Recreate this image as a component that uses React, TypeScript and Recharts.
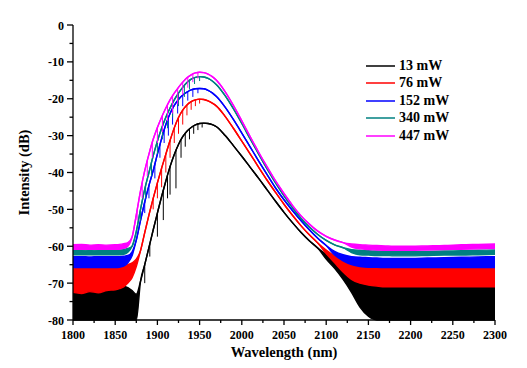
import { ComposedChart, Area, Scatter, ErrorBar, XAxis, YAxis, Legend } from "recharts";

// wavelength grid (nm)
const WAVELENGTH = [
  1800, 1810, 1820, 1830, 1840, 1850, 1855, 1860, 1865, 1870, 1875, 1880, 1885, 1890, 1895,
  1900, 1905, 1910, 1915, 1920, 1925, 1930, 1935, 1940, 1945, 1950, 1955, 1960, 1965, 1970,
  1980, 1990, 2000, 2010, 2020, 2030, 2040, 2050, 2060, 2070, 2080, 2090, 2100, 2110, 2120,
  2130, 2140, 2150, 2160, 2170, 2180, 2190, 2200, 2220, 2240, 2260, 2280, 2300,
];

const SERIES_NAMES = ["13 mW", "76 mW", "152 mW", "340 mW", "447 mW"];
const SERIES_COLORS = ["#000000", "#ff0000", "#0000ff", "#008080", "#ff00ff"];

// upper trace (spectrum / top of noise floor), dB
const P13_TOP = [
  -70.5, -70.0, -70.8, -70.3, -70.6, -70.4, -70.5, -70.8, -71.2, -72.0, -73.0, -69.5, -65.0, -60.3, -55.6,
  -51.0, -46.5, -42.3, -38.4, -35.1, -32.4, -30.3, -28.8, -27.8, -27.1, -26.7, -26.6, -26.7, -27.0, -27.6,
  -29.9, -32.7, -35.6, -38.6, -41.6, -44.7, -47.8, -50.8, -53.6, -56.2, -58.5, -60.5, -62.2, -63.7, -65.0,
  -66.2, -67.2, -68.0, -68.5, -68.8, -69.0, -69.2, -69.3, -69.4, -69.4, -69.3, -69.2, -69.0,
];
const P76_TOP = [
  -66.0, -65.6, -65.8, -65.5, -65.7, -65.5, -65.4, -65.3, -65.0, -64.5, -63.5, -61.2, -56.3, -51.5, -47.0,
  -42.8, -38.8, -35.0, -31.3, -27.9, -25.1, -23.1, -21.7, -20.8, -20.3, -20.1, -20.2, -20.6, -21.2, -22.0,
  -24.7, -28.0, -31.5, -35.0, -38.6, -42.1, -45.4, -48.6, -51.6, -54.4, -56.9, -59.1, -61.0, -62.6, -63.8,
  -64.6, -65.0, -65.2, -65.3, -65.3, -65.4, -65.4, -65.4, -65.4, -65.3, -65.2, -65.1, -65.0,
];
const P152_TOP = [
  -62.8, -62.8, -62.9, -62.8, -62.8, -62.8, -62.8, -62.7, -62.5, -61.5, -58.3, -53.0, -48.0, -43.5, -39.5,
  -35.0, -30.8, -27.0, -24.0, -21.8, -20.2, -19.0, -18.2, -17.6, -17.3, -17.2, -17.3, -17.7, -18.4, -19.4,
  -22.2, -25.6, -29.3, -33.1, -36.9, -40.6, -44.2, -47.4, -50.3, -53.0, -55.5, -57.8, -59.8, -61.4, -62.3,
  -62.8, -63.0, -63.1, -63.2, -63.3, -63.3, -63.3, -63.3, -63.2, -63.1, -63.0, -62.9, -62.8,
];
const P340_TOP = [
  -61.0, -61.0, -61.1, -61.0, -61.0, -61.0, -61.0, -60.9, -60.6, -60.0, -56.0, -50.0, -44.5, -40.0, -35.5,
  -31.5, -28.0, -25.0, -22.5, -20.3, -18.5, -16.9, -15.6, -14.7, -14.2, -14.0, -14.1, -14.5, -15.2, -16.2,
  -19.1, -22.7, -26.7, -30.9, -35.0, -39.0, -42.8, -46.3, -49.5, -52.4, -54.8, -56.8, -58.4, -59.6, -60.4,
  -60.9, -61.1, -61.2, -61.3, -61.4, -61.5, -61.5, -61.5, -61.4, -61.3, -61.2, -61.1, -61.0,
];
const P447_TOP = [
  -59.6, -59.5, -59.7, -59.6, -59.7, -59.6, -59.5, -59.3, -59.0, -57.5, -51.5, -45.0, -39.5, -35.0, -31.0,
  -27.8, -25.0, -22.5, -20.3, -18.5, -16.9, -15.5, -14.3, -13.5, -13.0, -12.8, -12.9, -13.3, -14.0, -15.0,
  -18.0, -21.8, -26.0, -30.3, -34.5, -38.5, -42.3, -45.7, -48.9, -51.7, -54.0, -55.9, -57.3, -58.3, -59.0,
  -59.4, -59.6, -59.7, -59.8, -59.9, -60.0, -60.0, -60.0, -59.9, -59.8, -59.6, -59.5, -59.4,
];

// lower edge of the noise band, null where the trace is clean
const P13_LOW = [
  -80, -80, -80, -80, -80, -80, -80, -80, -80, -80, -80, null, null, null, null,
  null, null, null, null, null, null, null, null, null, null, null, null, null, null, null,
  null, null, null, null, null, null, null, null, null, null, null, null, -63.5, -66.0, -69.0,
  -72.5, -76.5, -79.0, -80, -80, -80, -80, -80, -80, -80, -80, -80, -80,
];
const P76_LOW = [
  -72.5, -72.8, -72.3, -72.6, -72.0, -71.8, -71.5, -71.0, -70.0, -68.5, -65.5, null, null, null, null,
  null, null, null, null, null, null, null, null, null, null, null, null, null, null, null,
  null, null, null, null, null, null, null, null, null, null, null, null, -62.0, -64.5, -67.0,
  -69.0, -70.0, -70.5, -70.8, -71.0, -71.0, -71.0, -71.0, -71.0, -71.0, -71.0, -71.0, -71.0,
];
const P152_LOW = [
  -65.8, -65.8, -65.8, -65.8, -65.8, -65.8, -65.7, -65.4, -64.5, -62.6, null, null, null, null, null,
  null, null, null, null, null, null, null, null, null, null, null, null, null, null, null,
  null, null, null, null, null, null, null, null, null, null, null, null, null, -62.4, -64.0,
  -65.0, -65.5, -65.7, -65.7, -65.8, -65.8, -65.8, -65.8, -65.8, -65.8, -65.8, -65.8, -65.8,
];
const P340_LOW = [
  -62.3, -62.3, -62.3, -62.3, -62.3, -62.3, -62.3, -62.2, -61.6, null, null, null, null, null, null,
  null, null, null, null, null, null, null, null, null, null, null, null, null, null, null,
  null, null, null, null, null, null, null, null, null, null, null, null, null, null, null,
  -61.7, -62.3, -62.4, -62.5, -62.5, -62.6, -62.6, -62.6, -62.5, -62.4, -62.4, -62.3, -62.2,
];
const P447_LOW = [
  -60.8, -60.8, -60.8, -60.8, -60.8, -60.8, -60.8, -60.6, -60.0, null, null, null, null, null, null,
  null, null, null, null, null, null, null, null, null, null, null, null, null, null, null,
  null, null, null, null, null, null, null, null, null, null, null, null, null, null, null,
  -60.2, -60.7, -60.9, -61.0, -61.1, -61.1, -61.1, -61.1, -61.0, -60.9, -60.8, -60.7, -60.6,
];

// downward spikes on the rising edge: wavelength, trace level, spike tip (dB)
const P13_DIP_WL = [1885, 1891, 1900, 1907, 1912, 1915, 1922, 1928, 1933, 1938, 1943, 1948, 1953];
const P13_DIP_TOP = [-65.0, -59.4, -51.0, -44.8, -40.7, -38.4, -34.0, -31.1, -29.4, -28.2, -27.4, -26.9, -26.6];
const P13_DIP_TIP = [-70.0, -62.8, -57.4, -52.9, -47.0, -46.0, -44.3, -36.0, -33.0, -31.0, -29.5, -28.5, -27.8];

const P76_DIP_WL = [1895, 1900, 1905, 1910, 1915, 1920, 1925, 1930, 1935, 1940, 1945, 1950];
const P76_DIP_TOP = [-47.0, -42.8, -38.8, -35.0, -31.3, -27.9, -25.1, -23.1, -21.7, -20.8, -20.3, -20.1];
const P76_DIP_TIP = [-50.0, -47.0, -44.0, -40.0, -36.0, -32.0, -29.5, -27.0, -24.5, -23.0, -22.0, -21.3];

const P152_DIP_WL = [1885, 1890, 1897, 1903, 1908, 1913, 1918, 1924, 1930, 1936, 1942, 1948];
const P152_DIP_TOP = [-48.0, -43.5, -37.5, -32.4, -28.5, -25.1, -22.6, -20.5, -19.0, -18.1, -17.5, -17.2];
const P152_DIP_TIP = [-51.0, -47.0, -41.6, -36.0, -32.0, -30.0, -27.0, -24.0, -22.0, -20.5, -19.5, -18.5];

const P340_DIP_WL = [1880, 1886, 1893, 1900, 1906, 1912, 1918, 1925, 1932, 1938, 1944, 1950];
const P340_DIP_TOP = [-50.0, -43.6, -37.3, -31.5, -27.4, -24.0, -21.2, -18.5, -16.4, -15.0, -14.3, -14.0];
const P340_DIP_TIP = [-53.0, -47.0, -41.0, -35.0, -31.0, -28.0, -25.0, -22.0, -19.5, -17.5, -16.0, -15.2];

const P447_DIP_WL = [1876, 1882, 1888, 1894, 1900, 1906, 1912, 1918, 1924, 1930, 1936, 1942, 1948];
const P447_DIP_TOP = [-50.2, -42.8, -36.8, -31.8, -27.8, -24.5, -21.6, -19.2, -17.2, -15.5, -14.2, -13.3, -12.9];
const P447_DIP_TIP = [-53.0, -47.0, -41.0, -36.0, -32.0, -29.0, -26.0, -24.0, -21.5, -19.0, -17.0, -15.5, -14.5];

const X_TICKS = [1800, 1825, 1850, 1875, 1900, 1925, 1950, 1975, 2000, 2025, 2050, 2075, 2100, 2125, 2150, 2175, 2200, 2225, 2250, 2275, 2300];
const Y_TICKS = [-80, -75, -70, -65, -60, -55, -50, -45, -40, -35, -30, -25, -20, -15, -10, -5, 0];

const TOPS = [P13_TOP, P76_TOP, P152_TOP, P340_TOP, P447_TOP];
const LOWS = [P13_LOW, P76_LOW, P152_LOW, P340_LOW, P447_LOW];
const DIPS = [
  [P13_DIP_WL, P13_DIP_TOP, P13_DIP_TIP],
  [P76_DIP_WL, P76_DIP_TOP, P76_DIP_TIP],
  [P152_DIP_WL, P152_DIP_TOP, P152_DIP_TIP],
  [P340_DIP_WL, P340_DIP_TOP, P340_DIP_TIP],
  [P447_DIP_WL, P447_DIP_TOP, P447_DIP_TIP],
];
const KEYS = ["p13", "p76", "p152", "p340", "p447"];

const data = WAVELENGTH.map((wl, i) => {
  const row: any = { wl };
  KEYS.forEach((k, s) => {
    const top = TOPS[s][i];
    const low = LOWS[s][i];
    row[k] = [low == null ? top : low, top];
  });
  return row;
});

const dipData = DIPS.map(([wls, tops, tips]) =>
  wls.map((wl, i) => ({ wl, top: tops[i], err: [tops[i] - tips[i], 0] }))
);

const FONT = '"Liberation Serif", "Times New Roman", serif';
const AXIS = { stroke: "#000", strokeWidth: 1.3 };

const BottomTick = ({ x, y, payload }: any) => {
  const major = payload.value % 50 === 0;
  return (
    <g>
      <line x1={x} x2={x} y1={y} y2={y + (major ? 5 : 3)} {...AXIS} />
      {major && (
        <text x={x} y={y + 19} textAnchor="middle" fontFamily={FONT} fontWeight="bold" fontSize={12} fill="#000">
          {payload.value}
        </text>
      )}
    </g>
  );
};

const TopTick = ({ x, y, payload }: any) => {
  const major = payload.value % 50 === 0;
  return <line x1={x} x2={x} y1={y} y2={y + (major ? 5 : 3)} {...AXIS} />;
};

const LeftTick = ({ x, y, payload }: any) => {
  const major = payload.value % 10 === 0;
  return (
    <g>
      <line x1={x} x2={x - (major ? 6 : 3.5)} y1={y} y2={y} {...AXIS} />
      {major && (
        <text x={x - 9} y={y + 4.5} textAnchor="end" fontFamily={FONT} fontWeight="bold" fontSize={12} fill="#000">
          {payload.value}
        </text>
      )}
    </g>
  );
};

const RightTick = ({ x, y, payload }: any) => {
  const major = payload.value % 10 === 0;
  return <line x1={x} x2={x - (major ? 5 : 3)} y1={y} y2={y} {...AXIS} />;
};

// legend drawn from the series lists so the order stays 13 -> 447 mW
const LegendBox = () => (
  <div style={{ fontFamily: FONT, fontWeight: "bold", fontSize: 14, color: "#000" }}>
    {SERIES_NAMES.map((name, i) => (
      <div key={name} style={{ display: "flex", alignItems: "center", height: 17.5 }}>
        <svg width={33} height={6} style={{ display: "block" }}>
          <line x1={0} x2={29} y1={3} y2={3} stroke={SERIES_COLORS[i]} strokeWidth={1.5} />
        </svg>
        {name}
      </div>
    ))}
  </div>
);

const NoDot = () => <g />;

export default function App() {
  return (
    <div style={{ position: "absolute", left: 0, top: 0, width: 527, height: 368, background: "#fff" }}>
      <ComposedChart width={527} height={368} data={data} margin={{ top: 25, right: 32, bottom: 8, left: 13 }}>
        <XAxis
          dataKey="wl"
          type="number"
          domain={[1800, 2300]}
          ticks={X_TICKS}
          interval={0}
          tickSize={0}
          tickMargin={0}
          height={40}
          axisLine={AXIS}
          tick={<BottomTick />}
          label={{
            value: "Wavelength (nm)",
            position: "insideBottom",
            offset: 3,
            style: { fontFamily: FONT, fontWeight: "bold", fontSize: 14.5, fill: "#000" },
          }}
        />
        <XAxis
          xAxisId="top"
          orientation="top"
          type="number"
          dataKey="wl"
          domain={[1800, 2300]}
          ticks={X_TICKS}
          interval={0}
          tickSize={0}
          tickMargin={0}
          height={0}
          axisLine={AXIS}
          tick={<TopTick />}
        />
        <YAxis
          type="number"
          domain={[-80, 0]}
          ticks={Y_TICKS}
          interval={0}
          tickSize={0}
          tickMargin={0}
          width={60}
          axisLine={AXIS}
          tick={<LeftTick />}
          label={{
            value: "Intensity (dB)",
            angle: -90,
            position: "insideLeft",
            offset: 11,
            style: { textAnchor: "middle", fontFamily: FONT, fontWeight: "bold", fontSize: 14.5, fill: "#000" },
          }}
        />
        <YAxis
          yAxisId="right"
          orientation="right"
          type="number"
          domain={[-80, 0]}
          ticks={Y_TICKS}
          interval={0}
          tickSize={0}
          tickMargin={0}
          width={0}
          axisLine={AXIS}
          tick={<RightTick />}
        />
        <Legend
          layout="vertical"
          align="center"
          verticalAlign="middle"
          content={<LegendBox />}
          wrapperStyle={{ left: 366, top: 57, width: 120 }}
        />
        {KEYS.map((k, s) => (
          <Area
            key={k}
            dataKey={k}
            name={SERIES_NAMES[s]}
            type="monotone"
            stroke={SERIES_COLORS[s]}
            strokeWidth={1.4}
            fill={SERIES_COLORS[s]}
            fillOpacity={1}
            dot={false}
            activeDot={false}
            isAnimationActive={false}
          />
        ))}
        {KEYS.map((k, s) => (
          <Scatter
            key={k + "-dips"}
            data={dipData[s]}
            dataKey="top"
            shape={<NoDot />}
            legendType="none"
            isAnimationActive={false}
          >
            <ErrorBar dataKey="err" direction="y" width={0} stroke={SERIES_COLORS[s]} strokeWidth={1} isAnimationActive={false} />
          </Scatter>
        ))}
      </ComposedChart>
    </div>
  );
}
